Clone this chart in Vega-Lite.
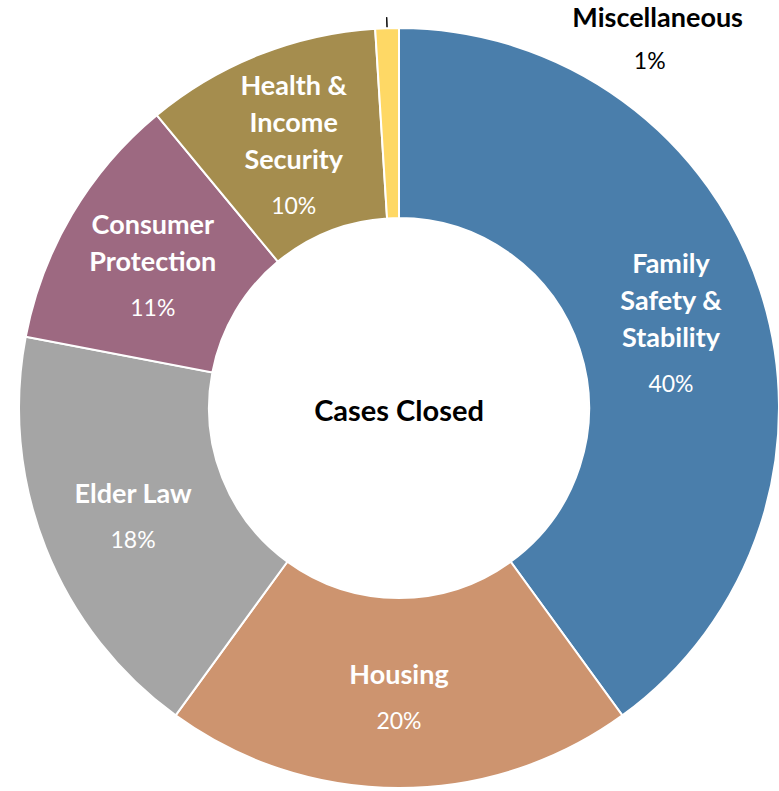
{
  "$schema": "https://vega.github.io/schema/vega-lite/v6.json",
  "width": 760,
  "height": 760,
  "autosize": {"type": "none"},
  "padding": {"left": 19, "top": 28, "right": 0, "bottom": 3},
  "background": "white",
  "config": {"view": {"stroke": null}},
  "data": {
    "values": [
      {"name": "Family\nSafety &\nStability", "value": 40},
      {"name": "Housing", "value": 20},
      {"name": "Elder Law", "value": 18},
      {"name": "Consumer\nProtection", "value": 11},
      {"name": "Health &\nIncome\nSecurity", "value": 10},
      {"name": "Miscellaneous", "value": 1}
    ]
  },
  "transform": [
    {"calculate": "datum.name === 'Miscellaneous'", "as": "isMisc"},
    {"calculate": "1 + (indexof(datum.name, '\\n') >= 0 ? 1 : 0) + (lastindexof(datum.name, '\\n') > indexof(datum.name, '\\n') ? 1 : 0)", "as": "nLines"},
    {"calculate": "((datum.nLines - 1) * 37 + 46) / 2", "as": "half"},
    {"calculate": "datum.isMisc ? '' : datum.name", "as": "inName"},
    {"calculate": "datum.isMisc ? '' : datum.value + '%'", "as": "inPct"},
    {"calculate": "datum.isMisc ? datum.name : ''", "as": "outName"},
    {"calculate": "datum.isMisc ? datum.value + '%' : ''", "as": "outPct"}
  ],
  "layer": [
    {
      "mark": {"type": "arc", "innerRadius": 190, "outerRadius": 380, "stroke": "white", "strokeWidth": 2},
      "encoding": {
        "theta": {"field": "value", "type": "quantitative", "stack": true},
        "order": {"field": "value", "type": "quantitative", "sort": "descending"},
        "color": {
          "field": "name",
          "type": "nominal",
          "scale": {
            "domain": ["Family\nSafety &\nStability", "Housing", "Elder Law", "Consumer\nProtection", "Health &\nIncome\nSecurity", "Miscellaneous"],
            "range": ["#4A7EAB", "#CD946F", "#A5A5A5", "#9D6981", "#A58D4E", "#FED865"]
          },
          "legend": null
        }
      }
    },
    {
      "mark": {"type": "text", "radius": 286, "font": "Lato", "fontWeight": "bold", "fontSize": 27, "lineHeight": 37, "lineBreak": "\n", "color": "white", "align": "center", "baseline": "middle", "dy": {"expr": "5 - datum.half"}},
      "encoding": {
        "theta": {"field": "value", "type": "quantitative", "stack": true},
        "order": {"field": "value", "type": "quantitative", "sort": "descending"},
        "detail": {"field": "name", "type": "nominal"},
        "text": {"field": "inName", "type": "nominal"}
      }
    },
    {
      "mark": {"type": "text", "radius": 286, "font": "Lato", "fontWeight": "normal", "fontSize": 23, "color": "white", "align": "center", "baseline": "middle", "dy": {"expr": "5 + datum.half"}},
      "encoding": {
        "theta": {"field": "value", "type": "quantitative", "stack": true},
        "order": {"field": "value", "type": "quantitative", "sort": "descending"},
        "detail": {"field": "name", "type": "nominal"},
        "text": {"field": "inPct", "type": "nominal"}
      }
    },
    {
      "mark": {"type": "text", "radius": 392, "font": "Lato", "fontWeight": "bold", "fontSize": 27, "color": "black", "align": "center", "baseline": "middle", "dx": 271, "dy": 3},
      "encoding": {
        "theta": {"field": "value", "type": "quantitative", "stack": true},
        "order": {"field": "value", "type": "quantitative", "sort": "descending"},
        "detail": {"field": "name", "type": "nominal"},
        "text": {"field": "outName", "type": "nominal"}
      }
    },
    {
      "mark": {"type": "text", "radius": 392, "font": "Lato", "fontWeight": "normal", "fontSize": 23, "color": "black", "align": "center", "baseline": "middle", "dx": 263, "dy": 46},
      "encoding": {
        "theta": {"field": "value", "type": "quantitative", "stack": true},
        "order": {"field": "value", "type": "quantitative", "sort": "descending"},
        "detail": {"field": "name", "type": "nominal"},
        "text": {"field": "outPct", "type": "nominal"}
      }
    },
    {
      "transform": [
        {"stack": "value", "groupby": [], "sort": [{"field": "value", "order": "descending"}], "as": ["v0", "v1"]},
        {"calculate": "(datum.v0 + datum.v1) / 2", "as": "mid"},
        {"filter": "datum.isMisc"}
      ],
      "mark": {"type": "arc", "innerRadius": 381, "outerRadius": 391, "fill": null, "stroke": "black", "strokeWidth": 1},
      "encoding": {
        "theta": {"field": "mid", "type": "quantitative"},
        "theta2": {"field": "mid"}
      }
    },
    {
      "data": {"values": [{"label": "Cases Closed"}]},
      "mark": {"type": "text", "font": "Lato", "fontWeight": "bold", "fontSize": 29, "color": "black", "align": "center", "baseline": "middle", "dy": 4},
      "encoding": {
        "text": {"field": "label", "type": "nominal"}
      }
    }
  ]
}
